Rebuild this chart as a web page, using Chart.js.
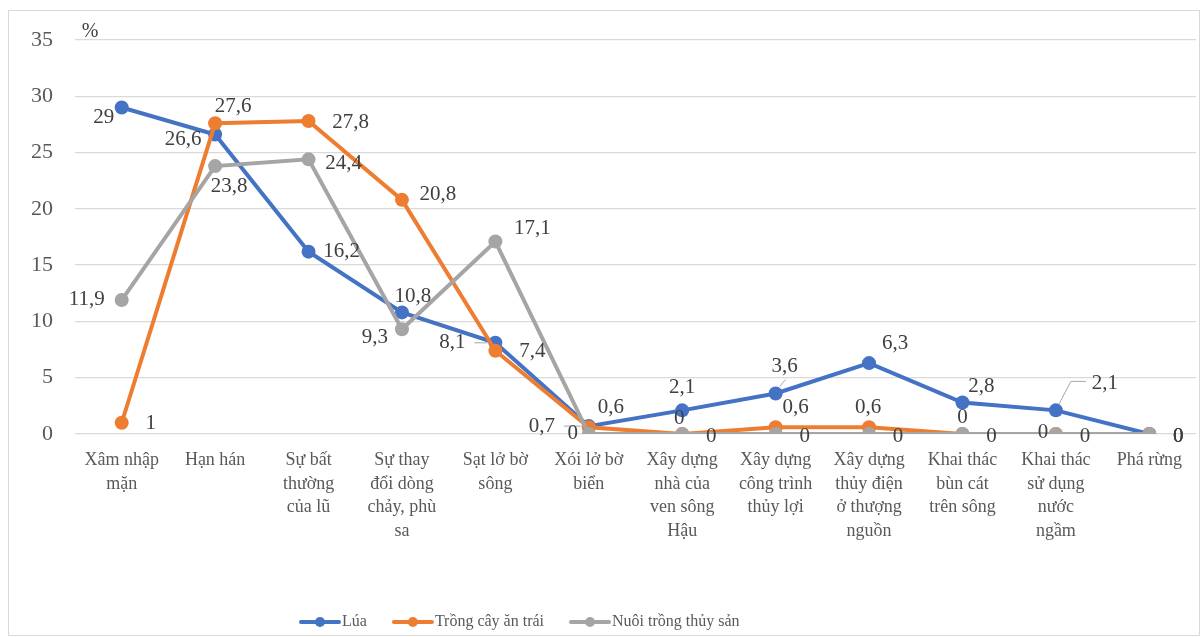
<!DOCTYPE html>
<html>
<head>
<meta charset="utf-8">
<script src="https://cdn.jsdelivr.net/npm/chart.js@4.4.1/dist/chart.umd.min.js"></script>
<style>
    body { margin: 0; background: #fff; }
    #wrap { position: relative; width: 1203px; height: 637px; }
    #frame { position: absolute; left: 8px; top: 10px; width: 1190px; height: 624px; border: 1px solid #d9d9d9; pointer-events: none; }
</style>
</head>
<body>
<div id="wrap">
    <canvas id="chart" width="1203" height="637"></canvas>
    <div id="frame"></div>
</div>
<script>
// categories (split into display lines)
const categories = [
    ['Xâm nhập', 'mặn'],
    ['Hạn hán'],
    ['Sự bất', 'thường', 'của lũ'],
    ['Sự thay', 'đổi dòng', 'chảy, phù', 'sa'],
    ['Sạt lở bờ', 'sông'],
    ['Xói lở bờ', 'biển'],
    ['Xây dựng', 'nhà của', 'ven sông', 'Hậu'],
    ['Xây dựng', 'công trình', 'thủy lợi'],
    ['Xây dựng', 'thủy điện', 'ở thượng', 'nguồn'],
    ['Khai thác', 'bùn cát', 'trên sông'],
    ['Khai thác', 'sử dụng', 'nước', 'ngầm'],
    ['Phá rừng']
];
const seriesNames = ['Lúa', 'Trồng cây ăn trái', 'Nuôi trồng thủy sản'];
const lua = [29, 26.6, 16.2, 10.8, 8.1, 0.7, 2.1, 3.6, 6.3, 2.8, 2.1, 0];
const cayAnTrai = [1, 27.6, 27.8, 20.8, 7.4, 0.6, 0, 0.6, 0.6, 0, 0, 0];
const thuySan = [11.9, 23.8, 24.4, 9.3, 17.1, 0, 0, 0, 0, 0, 0, 0];
const yTicks = [0, 5, 10, 15, 20, 25, 30, 35];

const colors = ['#4472C4', '#ED7D31', '#A5A5A5'];
const serif = '"Liberation Serif", "Times New Roman", serif';

// data label placement (pixel offsets from the point)
const labelOffsets = [
    [[-18, 10], [-32, 5], [33, 0], [11, -16], [-43, 0], [-47, 0], [0, -23], [9, -27], [26, -20], [19, -16], [49, -27], [29, 2]],
    [[29, 1], [18, -17], [42, 1], [36, -5], [37, 1], [22, -20], [-3, -16], [20, -20], [-1, -20], [0, -17], [-13, -2], [29, 2]],
    [[-35, -1], [14, 20], [35, 4], [-27, 8], [37, -13], [-16, -1], [29, 2], [29, 2], [29, 2], [29, 2], [29, 2], [29, 2]]
];
// leader lines for some labels (dataset, index, polyline relative to point)
const leaders = [
    [0, 4, [[-21, 0], [-8, 0]]],
    [0, 5, [[-25, 0], [-8, 0]]],
    [0, 7, [[4, -7], [10, -14]]],
    [0, 10, [[3, -6], [15, -29], [30, -29]]]
];

function legendIcon(color) {
    const c = document.createElement('canvas');
    c.width = 42; c.height = 14;
    const x = c.getContext('2d');
    x.strokeStyle = color; x.lineWidth = 4; x.lineCap = 'round';
    x.beginPath(); x.moveTo(2, 7); x.lineTo(40, 7); x.stroke();
    x.fillStyle = color;
    x.beginPath(); x.arc(21, 7, 5, 0, Math.PI * 2); x.fill();
    return c;
}

const dataLabels = {
    id: 'dataLabels',
    afterDatasetsDraw(chart) {
        const ctx = chart.ctx;
        ctx.save();
        ctx.strokeStyle = '#a6a6a6';
        ctx.lineWidth = 1;
        leaders.forEach(([d, i, pts]) => {
            const p = chart.getDatasetMeta(d).data[i];
            ctx.beginPath();
            pts.forEach(([dx, dy], k) => {
                if (k === 0) ctx.moveTo(p.x + dx, p.y + dy); else ctx.lineTo(p.x + dx, p.y + dy);
            });
            ctx.stroke();
        });
        ctx.font = '21px ' + serif;
        ctx.fillStyle = '#404040';
        ctx.textAlign = 'center';
        ctx.textBaseline = 'middle';
        chart.data.datasets.forEach((ds, d) => {
            chart.getDatasetMeta(d).data.forEach((p, i) => {
                const [dx, dy] = labelOffsets[d][i];
                ctx.fillText(String(ds.data[i]).replace('.', ','), p.x + dx, p.y + dy);
            });
        });
        // unit
        ctx.font = '20px ' + serif;
        ctx.fillText('%', 90, 32);
        ctx.restore();
    },
    afterLayout(chart) {
        chart.legend.left += 274;
        chart.legend.right += 274;
    }
};

const ctx = document.getElementById('chart').getContext('2d');
new Chart(ctx, {
    type: 'line',
    data: {
        labels: categories,
        datasets: [lua, cayAnTrai, thuySan].map((vals, i) => ({
            label: seriesNames[i],
            data: vals,
            borderColor: colors[i],
            backgroundColor: colors[i],
            borderWidth: 4,
            pointRadius: 7,
            pointBorderWidth: 0,
            pointHoverRadius: 7,
            tension: 0,
            order: 3 - i
        }))
    },
    options: {
        responsive: false,
        animation: false,
        layout: { padding: { top: 40, left: 0, right: 7, bottom: -3 } },
        scales: {
            x: {
                offset: true,
                grid: { display: false, drawTicks: false },
                border: { display: false },
                ticks: {
                    autoSkip: false, maxRotation: 0, padding: 15,
                    color: '#595959',
                    font: { family: serif, size: 18, lineHeight: 1.3 }
                },
                afterFit(scale) { scale.height = 148; }
            },
            y: {
                min: 0, max: 35,
                afterBuildTicks(scale) { scale.ticks = yTicks.map(v => ({ value: v })); },
                grid: { color: '#d9d9d9', lineWidth: 1.3, drawTicks: false },
                border: { display: false },
                ticks: {
                    padding: 22, color: '#595959',
                    font: { family: serif, size: 22 }
                },
                afterFit(scale) { scale.width = 75; }
            }
        },
        plugins: {
            tooltip: { enabled: false },
            legend: {
                position: 'bottom',
                align: 'start',
                labels: {
                    usePointStyle: true,
                    pointStyleWidth: 28,
                    padding: 32,
                    font: { family: serif, size: 16, lineHeight: 1 },
                    color: '#595959',
                    generateLabels(chart) {
                        return chart.data.datasets.map((ds, i) => ({
                            text: ds.label,
                            fillStyle: ds.borderColor,
                            strokeStyle: ds.borderColor,
                            lineWidth: 0,
                            pointStyle: legendIcon(ds.borderColor),
                            hidden: false,
                            datasetIndex: i,
                            fontColor: '#595959'
                        }));
                    }
                }
            }
        }
    },
    plugins: [dataLabels]
});
</script>
</body>
</html>
